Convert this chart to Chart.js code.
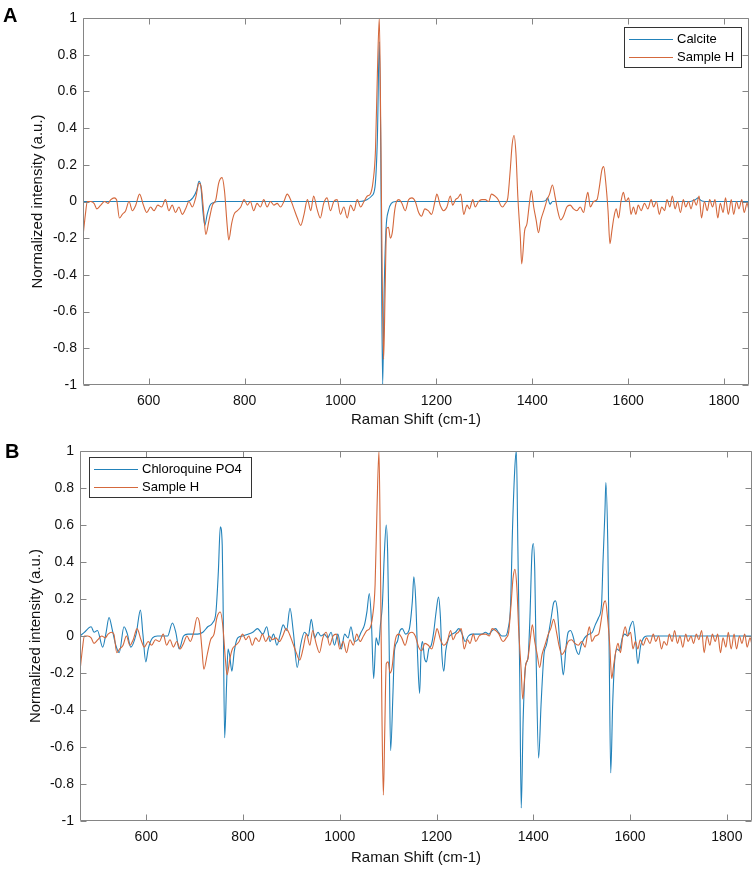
<!DOCTYPE html>
<html>
<head>
<meta charset="utf-8">
<title>Raman spectra</title>
<script src="https://cdn.jsdelivr.net/npm/chart.js@4.4.1/dist/chart.umd.min.js"></script>
<style>
    body { margin: 0; background: #fff; }
    #page { position: relative; width: 755px; height: 869px; overflow: hidden; }
    canvas { position: absolute; left: 0; }
    #chart-a { top: 0; }
    #chart-b { top: 430px; }
    .panel { position: absolute; font: bold 20px "Liberation Sans", Arial, sans-serif; line-height: 20px; color: #000; }
</style>
</head>
<body>
<div id="page">
    <canvas id="chart-a" width="755" height="430"></canvas>
    <canvas id="chart-b" width="755" height="439"></canvas>
    <div class="panel" style="left:3px; top:5px;">A</div>
    <div class="panel" style="left:5px; top:441px;">B</div>
</div>
<script>
// Tick labels
const shiftTicks = [600, 800, 1000, 1200, 1400, 1600, 1800];
const intensityTicks = [-1, -0.8, -0.6, -0.4, -0.2, 0, 0.2, 0.4, 0.6, 0.8, 1];

// Sample H (shared by both panels)
const sampleHShift = [463, 468, 472, 479, 486, 492, 500, 508, 515, 521, 528, 533, 539, 545, 552, 559, 566, 573, 581, 589, 596, 604, 611, 619, 627, 635, 642, 649, 656, 663, 670, 677, 684, 691, 698, 705, 710, 715, 719, 726, 733, 740, 746, 753, 758, 764, 767, 773, 778, 785, 792, 799, 806, 812, 819, 826, 833, 840, 847, 854, 861, 868, 875, 882, 889, 896, 903, 910, 917, 924, 931, 938, 944, 951, 958, 965, 972, 979, 986, 993, 1000, 1007, 1014, 1021, 1028, 1035, 1042, 1049, 1056, 1062, 1068, 1073, 1077, 1081, 1084, 1087, 1090, 1093, 1096, 1100, 1104, 1108, 1113, 1117, 1122, 1128, 1135, 1142, 1149, 1156, 1163, 1169, 1176, 1183, 1190, 1197, 1201, 1208, 1215, 1222, 1229, 1234, 1240, 1245, 1251, 1257, 1264, 1269, 1276, 1281, 1288, 1295, 1302, 1309, 1315, 1322, 1329, 1334, 1338, 1344, 1349, 1354, 1358, 1362, 1366, 1370, 1375, 1378, 1384, 1389, 1394, 1398, 1403, 1408, 1413, 1418, 1424, 1431, 1436, 1442, 1448, 1453, 1459, 1465, 1472, 1479, 1486, 1493, 1500, 1507, 1512, 1516, 1521, 1528, 1535, 1540, 1545, 1549, 1553, 1558, 1562, 1566, 1570, 1575, 1580, 1585, 1590, 1595, 1601, 1606, 1611, 1616, 1621, 1627, 1634, 1641, 1648, 1653, 1659, 1665, 1670, 1676, 1681, 1687, 1692, 1698, 1703, 1709, 1715, 1720, 1726, 1731, 1737, 1742, 1748, 1753, 1759, 1765, 1770, 1776, 1781, 1787, 1792, 1798, 1803, 1809, 1815, 1820, 1826, 1831, 1837, 1842, 1848, 1852];
const sampleHIntensity = [-0.19, -0.07, 0.00, 0.00, -0.01, -0.04, -0.02, 0.00, -0.01, 0.01, 0.02, 0.01, -0.09, -0.07, -0.05, 0.00, -0.05, -0.02, 0.04, -0.02, -0.06, -0.03, -0.05, -0.02, -0.03, 0.01, -0.05, -0.02, -0.06, -0.03, -0.07, -0.04, 0.00, -0.03, 0.02, 0.10, 0.07, -0.07, -0.18, -0.10, -0.02, 0.01, 0.10, 0.13, 0.06, -0.14, -0.21, -0.12, -0.07, -0.05, -0.03, 0.01, -0.02, 0.00, -0.05, -0.01, -0.03, 0.01, -0.03, 0.00, -0.02, -0.01, -0.03, 0.00, 0.04, 0.01, -0.04, -0.09, -0.13, -0.07, 0.01, -0.05, 0.03, -0.04, -0.09, -0.01, 0.02, -0.05, 0.00, 0.01, -0.07, -0.03, -0.09, -0.02, -0.05, 0.01, -0.03, 0.00, 0.03, 0.04, 0.11, 0.28, 0.70, 1.00, 0.40, -0.40, -0.86, -0.50, -0.15, -0.14, -0.20, -0.17, -0.05, 0.00, 0.01, -0.01, -0.05, 0.01, 0.02, 0.00, -0.06, -0.08, -0.04, -0.05, -0.07, 0.00, 0.04, -0.02, -0.05, -0.03, 0.03, -0.02, 0.01, 0.02, 0.04, -0.07, -0.02, -0.04, 0.01, -0.03, 0.00, 0.01, 0.01, 0.00, 0.04, 0.03, 0.01, -0.02, -0.03, -0.01, 0.02, 0.17, 0.31, 0.36, 0.26, 0.02, -0.19, -0.34, -0.16, -0.12, -0.01, 0.06, -0.03, -0.10, -0.17, -0.10, -0.05, 0.01, 0.04, 0.09, 0.02, -0.05, -0.10, -0.08, -0.03, -0.02, -0.04, -0.05, -0.03, -0.06, 0.01, 0.05, -0.03, 0.00, 0.01, 0.08, 0.17, 0.19, 0.11, -0.05, -0.23, -0.16, -0.09, -0.04, -0.09, 0.00, 0.05, 0.00, 0.02, -0.07, -0.03, -0.07, -0.02, -0.05, -0.01, -0.04, 0.01, -0.03, 0.00, -0.07, -0.03, -0.05, 0.01, -0.03, 0.03, -0.04, 0.00, -0.06, 0.01, -0.03, 0.00, -0.04, 0.01, -0.02, 0.03, -0.09, 0.00, -0.05, 0.01, -0.03, 0.01, -0.09, -0.01, -0.06, 0.02, -0.07, 0.01, -0.07, 0.00, -0.04, 0.01, -0.06, -0.01, -0.05];

// Calcite reference (panel A)
const calciteShift = [463, 680, 692, 700, 705, 709, 713, 717, 722, 728, 736, 745, 1040, 1055, 1065, 1072, 1077, 1081, 1084, 1086, 1088, 1091, 1095, 1100, 1106, 1115, 1130, 1420, 1428, 1432, 1437, 1442, 1450, 1730, 1740, 1746, 1752, 1760, 1852];
const calciteIntensity = [0, 0, 0.02, 0.06, 0.11, 0.08, -0.05, -0.13, -0.07, -0.02, -0.005, 0, 0, 0.01, 0.03, 0.08, 0.35, 0.87, 0.30, -0.50, -1.00, -0.50, -0.15, -0.05, -0.01, 0, 0, 0, 0.005, 0.02, -0.015, 0, 0, 0, 0.01, 0.02, 0.005, 0, 0];

// Chloroquine PO4 reference (panel B)
const chloroquineShift = [463, 472, 486, 492, 499, 510, 517, 523, 530, 537, 544, 554, 561, 568, 579, 588, 593, 599, 604, 613, 623, 634, 644, 654, 661, 668, 677, 686, 696, 706, 717, 727, 737, 744, 749, 753, 757, 759, 762, 766, 769, 772, 777, 782, 789, 799, 810, 820, 830, 841, 849, 856, 863, 870, 877, 883, 890, 897, 904, 912, 919, 927, 935, 941, 948, 955, 961, 968, 975, 982, 989, 996, 1003, 1010, 1017, 1023, 1030, 1037, 1044, 1051, 1056, 1061, 1065, 1070, 1075, 1080, 1084, 1088, 1092, 1096, 1099, 1102, 1105, 1110, 1113, 1119, 1123, 1129, 1136, 1143, 1150, 1153, 1157, 1161, 1165, 1168, 1171, 1175, 1179, 1184, 1189, 1194, 1199, 1204, 1208, 1211, 1215, 1219, 1225, 1232, 1239, 1246, 1253, 1259, 1266, 1273, 1280, 1287, 1294, 1301, 1308, 1315, 1322, 1328, 1335, 1342, 1348, 1353, 1357, 1362, 1365, 1368, 1372, 1375, 1379, 1384, 1389, 1393, 1397, 1400, 1403, 1406, 1411, 1416, 1422, 1427, 1432, 1437, 1442, 1446, 1450, 1454, 1458, 1462, 1468, 1472, 1477, 1483, 1488, 1494, 1499, 1506, 1515, 1522, 1528, 1535, 1541, 1544, 1548, 1550, 1554, 1557, 1560, 1564, 1568, 1573, 1578, 1584, 1589, 1595, 1600, 1606, 1611, 1616, 1622, 1628, 1635, 1653, 1852];
const chloroquineIntensity = [0.00, 0.02, 0.05, 0.02, 0.03, -0.06, 0.02, 0.10, 0.03, -0.05, -0.09, 0.05, 0.01, -0.06, 0.01, 0.14, 0.01, -0.14, -0.07, -0.01, 0.00, 0.00, 0.00, 0.07, 0.02, -0.07, 0.00, 0.01, 0.01, 0.01, 0.02, 0.05, 0.07, 0.13, 0.35, 0.59, 0.49, 0.13, -0.55, -0.26, -0.07, -0.10, -0.19, -0.08, -0.01, 0.00, 0.01, 0.02, 0.04, 0.01, 0.05, -0.03, 0.01, -0.05, 0.01, 0.06, 0.03, 0.15, 0.02, -0.17, -0.05, 0.02, 0.00, 0.09, -0.01, 0.02, 0.00, 0.01, -0.01, 0.02, -0.05, 0.01, -0.07, 0.01, -0.01, 0.05, -0.03, -0.02, 0.02, 0.06, 0.13, 0.23, 0.10, -0.23, -0.01, -0.05, 0.06, 0.17, 0.44, 0.60, 0.44, -0.05, -0.62, -0.30, -0.08, -0.03, 0.02, 0.04, 0.01, 0.03, 0.19, 0.32, 0.19, -0.12, -0.31, -0.08, -0.03, -0.12, -0.14, -0.07, -0.05, 0.02, 0.13, 0.21, 0.10, -0.10, -0.19, -0.08, -0.01, 0.01, 0.02, 0.04, 0.01, -0.03, 0.00, 0.01, 0.01, 0.01, 0.01, 0.02, 0.01, 0.03, 0.04, 0.02, 0.00, 0.00, 0.04, 0.17, 0.58, 0.92, 1.00, 0.49, -0.23, -0.93, -0.45, -0.16, -0.12, 0.10, 0.44, 0.50, 0.35, -0.14, -0.66, -0.37, -0.10, -0.05, 0.02, 0.10, 0.18, 0.19, 0.13, -0.01, -0.12, -0.21, -0.05, 0.02, 0.03, -0.01, -0.07, -0.10, -0.05, -0.01, 0.01, 0.02, 0.06, 0.10, 0.17, 0.40, 0.67, 0.83, 0.49, -0.14, -0.74, -0.37, -0.14, -0.07, -0.08, -0.01, 0.01, 0.00, 0.05, 0.08, -0.01, -0.15, -0.05, -0.01, 0.00, 0.00, 0.00];

const BLUE = '#2282ba';
const ORANGE = '#d4683c';

Chart.defaults.font.family = '"Liberation Sans", Arial, sans-serif';
Chart.defaults.color = '#111';

const toPoints = (xs, ys) => xs.map((x, i) => ({ x: x, y: ys[i] }));

// Box with inward ticks on all four sides (matlab style)
const frameTicks = {
    id: 'frameTicks',
    afterDatasetsDraw(chart) {
        const { ctx, chartArea, scales } = chart;
        const left = Math.round(chartArea.left) + 0.5;
        const right = Math.round(chartArea.right) - 0.5;
        const top = Math.round(chartArea.top) + 0.5;
        const bottom = Math.round(chartArea.bottom) - 0.5;
        const len = 6;
        ctx.save();
        ctx.strokeStyle = '#858585';
        ctx.lineWidth = 1;
        ctx.beginPath();
        scales.x.ticks.forEach(t => {
            const px = Math.round(scales.x.getPixelForValue(t.value)) + 0.5;
            ctx.moveTo(px, bottom); ctx.lineTo(px, bottom - len);
            ctx.moveTo(px, top); ctx.lineTo(px, top + len);
        });
        scales.y.ticks.forEach(t => {
            const py = Math.round(scales.y.getPixelForValue(t.value)) + 0.5;
            ctx.moveTo(left, py); ctx.lineTo(left + len, py);
            ctx.moveTo(right, py); ctx.lineTo(right - len, py);
        });
        ctx.rect(left, top, right - left, bottom - top);
        ctx.stroke();
        ctx.restore();
    }
};

// Legend in a framed box inside the axes
const boxLegend = {
    id: 'boxLegend',
    afterDraw(chart, args, opts) {
        const { ctx, chartArea } = chart;
        const x0 = Math.round(opts.side === 'right' ? chartArea.right - opts.offsetX - opts.width : chartArea.left + opts.offsetX);
        const y0 = Math.round(chartArea.top + opts.offsetY);
        ctx.save();
        ctx.fillStyle = '#fff';
        ctx.fillRect(x0, y0, opts.width, opts.height);
        ctx.strokeStyle = '#333';
        ctx.lineWidth = 1;
        ctx.strokeRect(x0 + 0.5, y0 + 0.5, opts.width, opts.height);
        ctx.font = '13px "Liberation Sans", Arial, sans-serif';
        ctx.textBaseline = 'middle';
        opts.items.forEach((item, row) => {
            const y = Math.round(y0 + opts.rows[row]) + 0.5;
            ctx.strokeStyle = item.color;
            ctx.lineWidth = 1.2;
            ctx.beginPath();
            ctx.moveTo(x0 + 5, y);
            ctx.lineTo(x0 + 49, y);
            ctx.stroke();
            ctx.fillStyle = '#000';
            ctx.fillText(item.label, x0 + 53, y);
        });
        ctx.restore();
    }
};

function spectrumChart(canvas, datasets, layout, legend) {
    return new Chart(canvas, {
        type: 'line',
        data: { datasets: datasets },
        options: {
            responsive: false,
            animation: false,
            devicePixelRatio: 1,
            layout: { padding: layout.padding },
            plugins: {
                legend: { display: false },
                tooltip: { enabled: false },
                boxLegend: legend
            },
            elements: { point: { radius: 0 } },
            scales: {
                x: {
                    type: 'linear',
                    min: 463,
                    max: 1852,
                    grid: { display: false, drawTicks: false },
                    border: { display: false },
                    afterBuildTicks: (scale) => { scale.ticks = shiftTicks.map(v => ({ value: v })); },
                    afterFit: (scale) => { scale.height = layout.xHeight; },
                    ticks: { autoSkip: false, maxRotation: 0, padding: 8, font: { size: 14 }, color: '#111', callback: (v) => String(v) },
                    title: { display: true, text: 'Raman Shift (cm-1)', font: { size: 15 }, color: '#111', padding: { top: 0, bottom: layout.xTitlePad } }
                },
                y: {
                    min: -1,
                    max: 1,
                    grid: { display: false, drawTicks: false },
                    border: { display: false },
                    afterBuildTicks: (scale) => { scale.ticks = intensityTicks.map(v => ({ value: v })); },
                    afterFit: (scale) => { scale.width = layout.yWidth; },
                    ticks: { padding: 6, font: { size: 14 }, color: '#111', callback: (v) => String(Number(v.toFixed(1))) },
                    title: { display: true, text: 'Normalized intensity (a.u.)', font: { size: 15 }, color: '#111', padding: { top: layout.yTitlePad, bottom: 0 } }
                }
            }
        },
        plugins: [frameTicks, boxLegend]
    });
}

const lineStyle = { borderWidth: 1.1, pointRadius: 0, cubicInterpolationMode: 'monotone', fill: false, clip: 0 };

// Panel A: Calcite vs Sample H
spectrumChart(
    document.querySelector('#chart-a'),
    [
        { ...lineStyle, label: 'Calcite', data: toPoints(calciteShift, calciteIntensity), borderColor: BLUE, order: 1 },
        { ...lineStyle, label: 'Sample H', data: toPoints(sampleHShift, sampleHIntensity), borderColor: ORANGE, order: 0 }
    ],
    { padding: { left: 0, right: 6, top: 18, bottom: 0 }, xHeight: 45, yWidth: 83, xTitlePad: 1, yTitlePad: 29 },
    { side: 'right', offsetX: 8, offsetY: 9, width: 117, height: 40, rows: [11.5, 30],
      items: [{ label: 'Calcite', color: BLUE }, { label: 'Sample H', color: ORANGE }] }
);

// Panel B: Chloroquine PO4 vs Sample H
spectrumChart(
    document.querySelector('#chart-b'),
    [
        { ...lineStyle, label: 'Chloroquine PO4', data: toPoints(chloroquineShift, chloroquineIntensity), borderColor: BLUE, order: 1 },
        { ...lineStyle, label: 'Sample H', data: toPoints(sampleHShift, sampleHIntensity), borderColor: ORANGE, order: 0 }
    ],
    { padding: { left: 0, right: 3, top: 21, bottom: 0 }, xHeight: 48, yWidth: 80, xTitlePad: 2, yTitlePad: 27 },
    { side: 'left', offsetX: 9, offsetY: 6, width: 162, height: 40, rows: [11.5, 30],
      items: [{ label: 'Chloroquine PO4', color: BLUE }, { label: 'Sample H', color: ORANGE }] }
);
</script>
</body>
</html>
